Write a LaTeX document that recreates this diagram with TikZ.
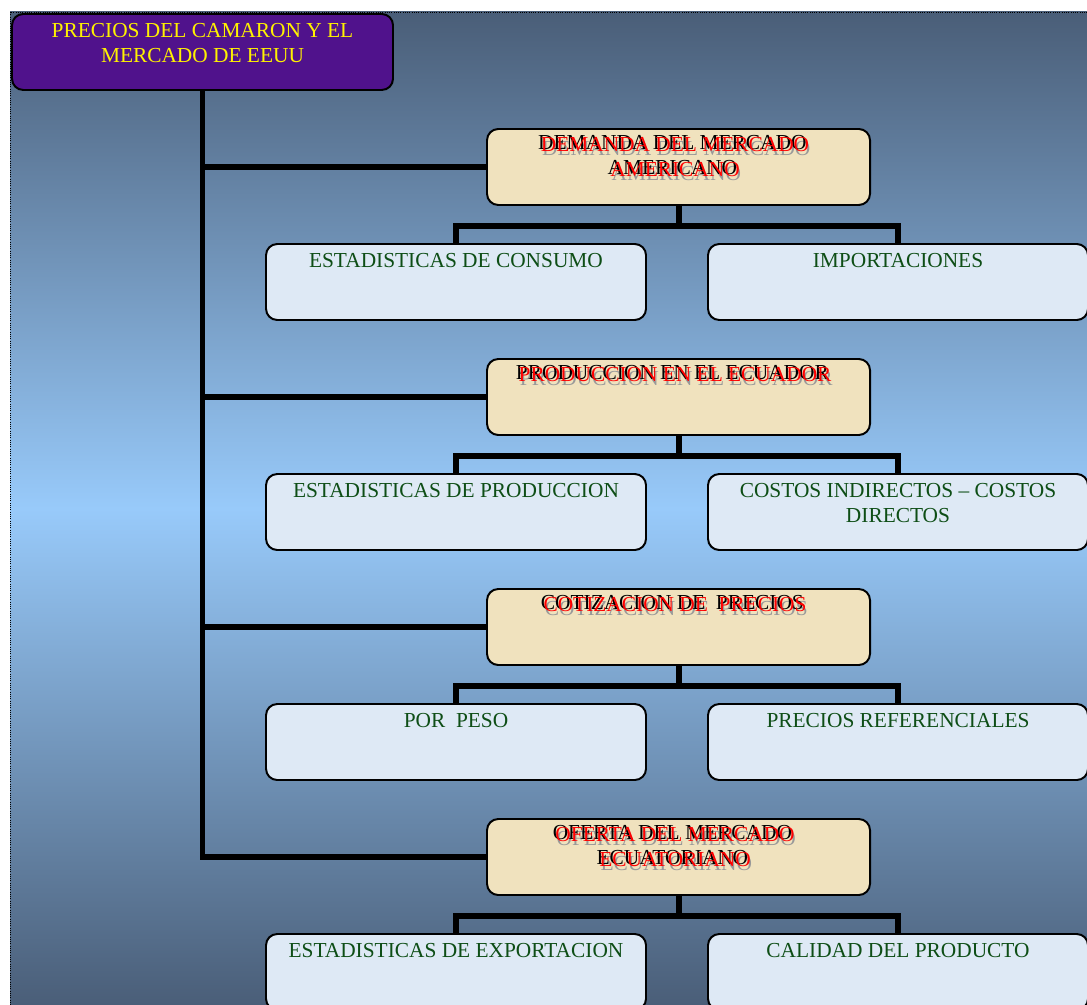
\documentclass[tikz,border=0pt]{standalone}
\usepackage{fontspec}
\setmainfont{Liberation Serif}
\definecolor{morado}{RGB}{80,18,140}
\definecolor{arena}{RGB}{240,226,190}
\definecolor{hielo}{RGB}{222,233,245}
\definecolor{verdetexto}{RGB}{14,78,22}
\definecolor{fondooscuro}{RGB}{74,94,120}
\definecolor{fondoclaro}{RGB}{152,202,250}
\tikzstyle{caja}=[draw=black, line width=1.4pt, rounded corners=8pt, inner sep=0pt]
\tikzstyle{raiz}=[caja, fill=morado, minimum width=9.525cm, minimum height=1.9cm]
\tikzstyle{rama}=[caja, fill=arena, minimum width=9.575cm, minimum height=1.9cm]
\tikzstyle{hoja}=[caja, fill=hielo, minimum width=9.5cm, minimum height=1.9cm]
\tikzstyle{texto}=[anchor=north, align=center, inner sep=0pt,
  font=\fontsize{15.2}{17.8}\selectfont]
\tikzstyle{textoraiz}=[texto, yshift=-0.24cm, text=yellow]
\tikzstyle{textorama}=[texto, yshift=-0.17cm, xshift=-0.12cm]
\tikzstyle{textohoja}=[texto, yshift=-0.24cm, text=verdetexto]
\tikzstyle{linea}=[draw, line width=4.25pt, color=black]
\newcommand{\sombra}[1]{%
  \rlap{\kern2.8pt\raisebox{-4.2pt}{\color{black!40}#1}}%
  \rlap{#1}%
  \kern1.9pt\raisebox{-1.7pt}{\color{red}#1}}
\newcommand{\raiz}[2]{node (p#1) [raiz] {} node (t#1) [textoraiz] at (p#1.north) {#2}}
\newcommand{\rama}[2]{node (p#1) [rama] {} node (t#1) [textorama] at (p#1.north) {#2}}
\newcommand{\hoja}[2]{node (p#1) [hoja] {} node (t#1) [textohoja] at (p#1.north) {#2}}

\begin{document}
\begin{tikzpicture}

% Background
\clip (0,0) rectangle (27.175,-25.125);
\path [top color=fondooscuro, bottom color=fondooscuro, middle color=fondoclaro]
  (0.25,-0.3) rectangle (27.175,-25.125);
\draw [densely dotted, line width=0.6pt] (0.25,-25.125) -- (0.25,-0.3) -- (27.175,-0.3);

% Draw diagram elements
\path (5.0625,-1.3) \raiz{0}{PRECIOS DEL CAMARON Y EL\\MERCADO DE EEUU};

\path (p0)+(11.9,-2.875) \rama{1}{\sombra{DEMANDA DEL MERCADO}\\\sombra{AMERICANO}};
\path (p1)+(-5.5625,-2.875) \hoja{2}{ESTADISTICAS DE CONSUMO};
\path (p1)+( 5.4875,-2.875) \hoja{3}{IMPORTACIONES};

\path (p1)+(0.0,-5.75) \rama{4}{\sombra{PRODUCCION EN EL ECUADOR}};
\path (p4)+(-5.5625,-2.875) \hoja{5}{ESTADISTICAS DE PRODUCCION};
\path (p4)+( 5.4875,-2.875) \hoja{6}{COSTOS INDIRECTOS – COSTOS\\DIRECTOS};

\path (p4)+(0.0,-5.75) \rama{7}{\sombra{COTIZACION DE\ \ PRECIOS}};
\path (p7)+(-5.5625,-2.875) \hoja{8}{POR\ \ PESO};
\path (p7)+( 5.4875,-2.875) \hoja{9}{PRECIOS REFERENCIALES};

\path (p7)+(0.0,-5.75) \rama{10}{\sombra{OFERTA DEL MERCADO}\\\sombra{ECUATORIANO}};
\path (p10)+(-5.5625,-2.875) \hoja{11}{ESTADISTICAS DE EXPORTACION};
\path (p10)+( 5.4875,-2.875) \hoja{12}{CALIDAD DEL PRODUCTO};

% Draw lines between elements
\path [linea] (p0.south) |- (p10.west);
\path [linea] (p0.south |- p1.west) -- (p1.west);
\path [linea] (p0.south |- p4.west) -- (p4.west);
\path [linea] (p0.south |- p7.west) -- (p7.west);

\path [linea] (p1.south) -- +(0.0,-0.5) -| (p2.north);
\path [linea] (p1.south) -- +(0.0,-0.5) -| (p3.north);
\path [linea] (p4.south) -- +(0.0,-0.5) -| (p5.north);
\path [linea] (p4.south) -- +(0.0,-0.5) -| (p6.north);
\path [linea] (p7.south) -- +(0.0,-0.5) -| (p8.north);
\path [linea] (p7.south) -- +(0.0,-0.5) -| (p9.north);
\path [linea] (p10.south) -- +(0.0,-0.5) -| (p11.north);
\path [linea] (p10.south) -- +(0.0,-0.5) -| (p12.north);
\end{tikzpicture}
\end{document}
